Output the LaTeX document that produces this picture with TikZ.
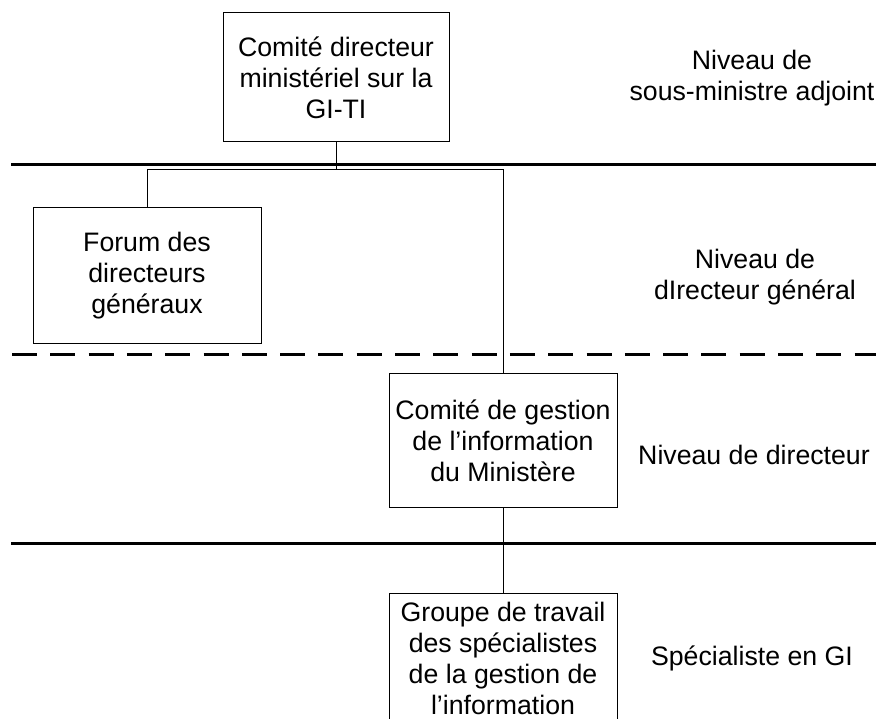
\documentclass[tikz,border=0pt]{standalone}
\usepackage{fontspec}
\setmainfont{Liberation Sans}
\begin{document}
\begin{tikzpicture}[x=1pt, y=-1pt,
  box/.style={draw, line width=1pt, align=center, minimum width=228pt, inner xsep=4pt,
    font=\fontsize{26.7}{31}\selectfont},
  level/.style={align=center, font=\fontsize{26.7}{31}\selectfont},
  sep/.style={line width=3pt}]
\useasboundingbox (0,0) rectangle (876,719);
\clip (0,0) rectangle (876,719);

\node[box, minimum width=226pt, minimum height=129pt] (s1) at (336,77.5) {Comité directeur\\ministériel sur la\\GI-TI};
\node[box, minimum height=136pt] (s2) at (147,276) {Forum des\\directeurs\\généraux};
\node[box, minimum height=133pt] (s3) at (503,440.5) {Comité de gestion\\de l’information\\du Ministère};
\node[box, anchor=north, inner ysep=9pt] (s4) at (503,593) {Groupe de travail\\des spécialistes\\de la gestion de\\l’information};

\node[level] (n1) at (752,78) {Niveau de\\sous-ministre adjoint};
\node[level] (n2) at (755,277) {Niveau de\\dIrecteur général};
\node[level] (n3) at (754,455) {Niveau de directeur};
\node[level] (n4) at (752,658) {Spécialiste en GI};

\draw[sep] (11,165) -- (876,165);
\draw[sep, dash pattern=on 25pt off 13.3pt] (12,355) -- (876,355);
\draw[sep] (11,543) -- (876,543);

\coordinate (j) at (336,170);
\draw[line width=1pt] (s1.south) -- (j);
\draw[line width=1pt] (j) -| (s2.north);
\draw[line width=1pt] (j) -| (s3.north);
\draw[line width=1pt] (s3.south) -- (s4.north);
\end{tikzpicture}
\end{document}
